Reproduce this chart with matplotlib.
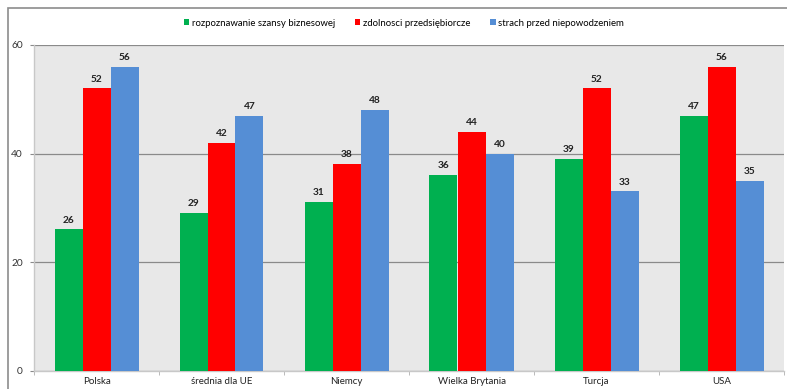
import matplotlib

matplotlib.use("Agg")

import matplotlib.pyplot as plt
import numpy as np
from matplotlib.patches import Rectangle

plt.rcParams["font.family"] = ["Lato", "DejaVu Sans"]

categories = ["Polska", "średnia dla UE", "Niemcy", "Wielka Brytania", "Turcja", "USA"]
series_names = [
    "rozpoznawanie szansy biznesowej",
    "zdolnosci przedsiębiorcze",
    "strach przed niepowodzeniem",
]
opportunity = [26, 29, 31, 36, 39, 47]
skills = [52, 42, 38, 44, 52, 56]
fear = [56, 47, 48, 40, 33, 35]
colors = ["#00B050", "#FF0000", "#558ED5"]

W, H = 787, 389
fig = plt.figure(figsize=(W / 100, H / 100), dpi=100)

# outer chart frame, open on the right and bottom
fig.patches.append(
    Rectangle((8 / W, -0.1), 1.2, 1.1 - 8 / H, transform=fig.transFigure,
              fill=False, edgecolor="#8c8c8c", linewidth=1.2, zorder=0)
)

ax = fig.add_axes([34 / W, 1 - 370.5 / H, 750 / W, 325.5 / H])
ax.set_facecolor("#E8E8E8")

x = np.arange(len(categories))
width = 0.224
for i, (vals, color, name) in enumerate(zip((opportunity, skills, fear), colors, series_names)):
    bars = ax.bar(x + (i - 1) * width, vals, width, color=color, label=name, zorder=3)
    for bar, v in zip(bars, vals):
        ax.text(bar.get_x() + bar.get_width() / 2, v + 0.9, f"{v}",
                ha="center", va="bottom", fontsize=7.3, fontweight="bold", color="#222222")

ax.set_xlim(-0.5, len(categories) - 0.5)
ax.set_ylim(0, 60)
ax.set_yticks([0, 20, 40, 60])
ax.yaxis.grid(True, color="#8a8a8a", linewidth=0.9, zorder=0)
ax.tick_params(axis="y", length=3, color="#8a8a8a", labelsize=7.3, colors="#333333", pad=5)

ax.set_xticks(x)
ax.set_xticklabels(categories, fontsize=7, color="#222222")
ax.tick_params(axis="x", length=0, pad=5)
ax.set_xticks(np.arange(-0.5, len(categories)), minor=True)
ax.tick_params(axis="x", which="minor", length=3, color="#b0b0b0")

for side in ("top", "right"):
    ax.spines[side].set_visible(False)
for side in ("left", "bottom"):
    ax.spines[side].set_color("#c8c8c8")
    ax.spines[side].set_linewidth(1.0)

fig.legend(loc="center", bbox_to_anchor=(404 / W, 1 - 23 / H), ncol=3, frameon=False,
           fontsize=6.9, handlelength=0.6, handleheight=0.6, handletextpad=0.3,
           columnspacing=2.0)

fig.savefig("out.png", dpi=100)
